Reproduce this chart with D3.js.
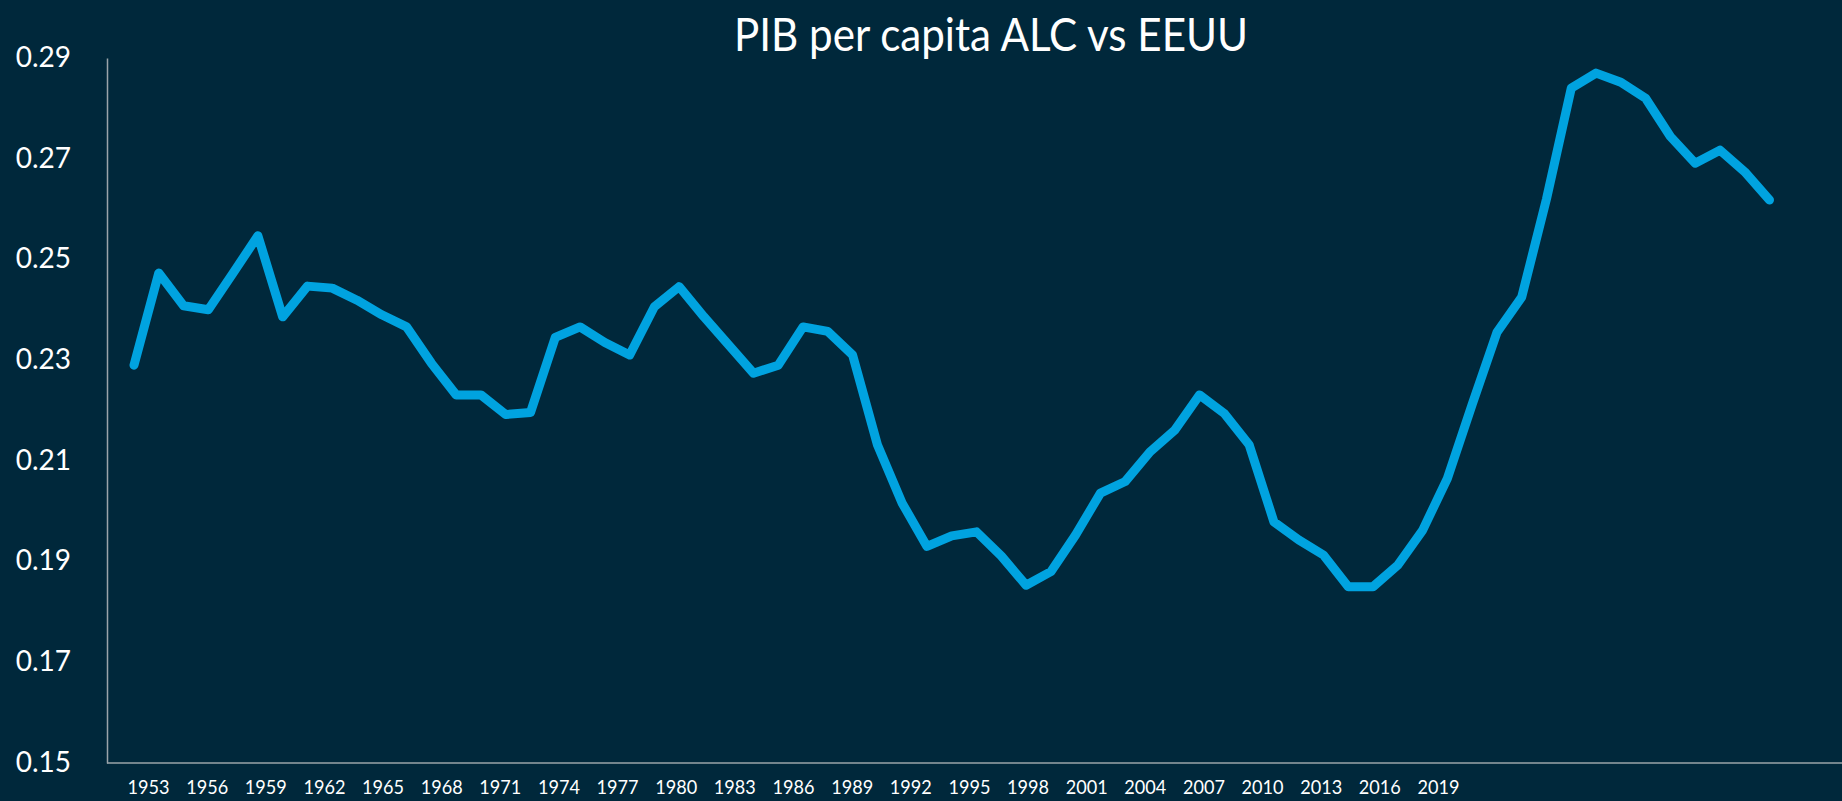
<!DOCTYPE html>
<head>
<meta charset="utf-8">
<title>PIB per capita ALC vs EEUU</title>
<script src="https://d3js.org/d3.v7.min.js"></script>
<style>
body {
  margin: 0;
  background: #00283b;
}
svg {
  font-family: Lato, "Open Sans", sans-serif;
  display: block;
}
.line {
  fill: none;
  stroke: #00a3e0;
  stroke-width: 9;
  stroke-linejoin: round;
  stroke-linecap: round;
}
.axis text {
  fill: #ffffff;
  font-family: Lato, "Open Sans", sans-serif;
}
.axis path, .axis-line {
  stroke: #9aa4aa;
  stroke-width: 1.5;
}
</style>
</head>

<body>
<div id="chart"></div>

<script>

/* Data: ratio of GDP per capita, ALC vs EEUU */
var years = d3.range(1952, 2019);
var ratio = [
  0.2290, 0.2473, 0.2408, 0.2400, 0.2473, 0.2547, 0.2386, 0.2447, 0.2443, 0.2419,
  0.2390, 0.2366, 0.2294, 0.2231, 0.2231, 0.2192, 0.2196, 0.2345, 0.2366, 0.2335,
  0.2310, 0.2406, 0.2446, 0.2386, 0.2330, 0.2274, 0.2290, 0.2366, 0.2357, 0.2310,
  0.2132, 0.2016, 0.1930, 0.1951, 0.1959, 0.1911, 0.1853, 0.1880, 0.1953, 0.2036,
  0.2059, 0.2118, 0.2161, 0.2231, 0.2194, 0.2132, 0.1979, 0.1943, 0.1913, 0.1850,
  0.1850, 0.1893, 0.1962, 0.2065, 0.2212, 0.2355, 0.2425, 0.2620, 0.2840, 0.2870,
  0.2852, 0.2820, 0.2744, 0.2691, 0.2717, 0.2674, 0.2618
];

/* x axis labels (every third year) */
var xLabels = ["1953", "1956", "1959", "1962", "1965", "1968", "1971", "1974",
  "1977", "1980", "1983", "1986", "1989", "1992", "1995", "1998", "2001",
  "2004", "2007", "2010", "2013", "2016", "2019"];

var yTicks = [0.15, 0.17, 0.19, 0.21, 0.23, 0.25, 0.27, 0.29];

var width = 1842;
var height = 801;
var plotLeft = 107;
var plotTop = 58;
var plotBottom = 763;

var data = years.map((y, i) => ({year: y, value: ratio[i]}));

/* Scales */
var x = d3.scaleLinear()
  .domain([1952, 2018])
  .range([134, 1769.5]);

var xLab = d3.scalePoint()
  .domain(xLabels)
  .range([148, 1438]);

var y = d3.scaleLinear()
  .domain([0.15, 0.29])
  .range([plotBottom, plotTop]);

var svg = d3.select("#chart").append("svg")
  .attr("width", width)
  .attr("height", height);

svg.append("rect")
  .attr("width", width)
  .attr("height", height)
  .attr("fill", "#00283b");

/* Title */
svg.append("text")
  .attr("x", 991)
  .attr("y", 51)
  .attr("text-anchor", "middle")
  .attr("fill", "#ffffff")
  .style("font-size", "47px")
  .attr("textLength", 514)
  .attr("lengthAdjust", "spacingAndGlyphs")
  .text("PIB per capita ALC vs EEUU");

/* Axes */
svg.append("g")
  .attr("class", "axis y-axis")
  .attr("transform", `translate(${plotLeft},0)`)
  .call(d3.axisLeft(y).tickValues(yTicks).tickFormat(d3.format(".2f"))
    .tickSize(0).tickSizeOuter(0).tickPadding(36))
  .selectAll("text")
  .style("font-size", "28px")
  .attr("dy", "0.3em");

svg.append("line")
  .attr("class", "axis-line")
  .attr("x1", plotLeft)
  .attr("x2", width)
  .attr("y1", plotBottom)
  .attr("y2", plotBottom);

var xAxisG = svg.append("g")
  .attr("class", "axis x-axis")
  .attr("transform", `translate(0,${plotBottom})`)
  .call(d3.axisBottom(xLab).tickSize(0).tickPadding(18));
xAxisG.select(".domain").remove();
xAxisG.selectAll("text")
  .style("font-size", "19px")
  .attr("textLength", 42)
  .attr("lengthAdjust", "spacingAndGlyphs");

/* Line */
var line = d3.line()
  .x(d => x(d.year))
  .y(d => y(d.value));

svg.append("path")
  .datum(data)
  .attr("class", "line")
  .attr("d", line);

</script>
</body>
</html>
